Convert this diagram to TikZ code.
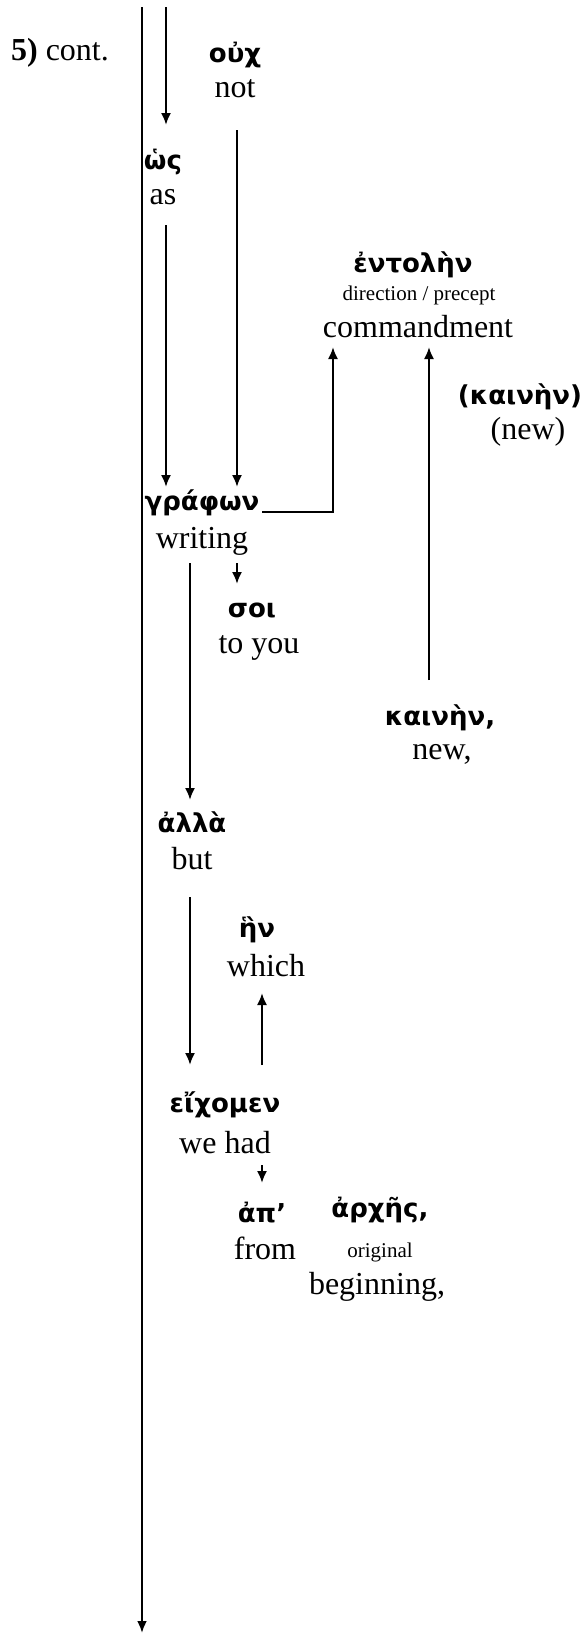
\documentclass[tikz,border=0pt]{standalone}
\usepackage{fontspec}
\setmainfont{Liberation Serif}
\newfontfamily\greekfont{DejaVu Sans}
\usepackage{tikz}
\usetikzlibrary{positioning}
\usetikzlibrary{arrows.meta}

\begin{document}
\begin{tikzpicture}[x=1pt, y=-1pt, line width=2pt, node distance=36pt,
  >={Latex[length=12pt,width=10pt]},
  gr/.style = {font=\greekfont\bfseries\fontsize{26}{31}\selectfont, inner sep=0pt},
  en/.style = {font=\fontsize{32}{38}\selectfont, inner sep=0pt},
  sm/.style = {font=\fontsize{21}{25}\selectfont, inner sep=0pt}]
\useasboundingbox (0,0) rectangle (584,1633);
\node[en] (cont) at (60,53) {\textbf{5)} cont.};
\node[gr] (ouch) at (235,55) {οὐχ};
\node[en] (not) [below of=ouch, node distance=34pt] {not};
\node[gr] (hos) at (163,162) {ὡς};
\node[en] (as) [below of=hos, node distance=35pt] {as};
\node[gr] (entolen) at (413,265) {ἐντολὴν};
\node[sm] (direction) [below of=entolen, node distance=30pt, xshift=6pt] {direction / precept};
\node[en] (commandment) [below of=direction, node distance=32pt, xshift=-1pt] {commandment};
\node[gr] (kainen2) at (520,397) {(καινὴν)};
\node[en] (new2) [below of=kainen2, node distance=35pt, xshift=8pt] {(new)};
\node[gr] (grafon) at (202,503) {γράφων};
\node[en] (writing) [below of=grafon, node distance=38pt] {writing};
\node[gr] (soi) at (252,610) {σοι};
\node[en] (toyou) [below of=soi, node distance=38pt, xshift=7pt] {to you};
\node[gr] (kainen) at (440,718) {καινὴν,};
\node[en] (new) [below of=kainen, node distance=36pt, xshift=2pt] {new,};
\node[gr] (alla) at (192,822) {ἀλλὰ};
\node[en] (but) [below of=alla, node distance=37pt] {but};
\node[gr] (hen) at (257,930) {ἣν};
\node[en] (which) [below of=hen, xshift=9pt] {which};
\node[gr] (eichomen) at (225,1105) {εἴχομεν};
\node[en] (wehad) [below of=eichomen, node distance=38pt] {we had};
\node[gr] (ap) at (262,1213) {ἀπ’};
\node[en] (from) [below of=ap, node distance=35pt, xshift=3pt] {from};
\node[gr] (arches) at (380,1210) {ἀρχῆς,};
\node[sm] (original) [below of=arches, node distance=42pt] {original};
\node[en] (beginning) [below of=original, node distance=35pt, xshift=-3pt] {beginning,};
\coordinate (top) at (142,7);
\coordinate (bottom) at (142,1633);
\coordinate (start) at (166,7);
\draw[->, line width=2.5pt] (top) -- (bottom);
\draw[->] (start) -- ([xshift=3pt,yshift=37pt]hos.center);
\draw[->] ([xshift=3pt,yshift=-28pt]as.center) -- ([xshift=-36pt,yshift=16pt]grafon.center);
\draw[->] ([xshift=2pt,yshift=-41pt]not.center) -- ([xshift=35pt,yshift=16pt]grafon.center);
\draw[->] ([xshift=60pt,yshift=-9pt]grafon.center) -| ([xshift=-85pt,yshift=-20pt]commandment.center);
\draw[->] ([xshift=-11pt,yshift=38pt]kainen.center) -- ([xshift=11pt,yshift=-20pt]commandment.center);
\draw[->] ([xshift=35pt,yshift=-22pt]writing.center) -- ([xshift=-15pt,yshift=26pt]soi.center);
\draw[->] ([xshift=-12pt,yshift=-22pt]writing.center) -- ([xshift=-2pt,yshift=22pt]alla.center);
\draw[->] ([xshift=-2pt,yshift=-38pt]but.center) -- ([xshift=-35pt,yshift=40pt]eichomen.center);
\draw[->] ([xshift=37pt,yshift=40pt]eichomen.center) -- ([xshift=-4pt,yshift=-27pt]which.center);
\draw[->] ([xshift=37pt,yshift=-22pt]wehad.center) -- ([yshift=30pt]ap.center);
\end{tikzpicture}
\end{document}
